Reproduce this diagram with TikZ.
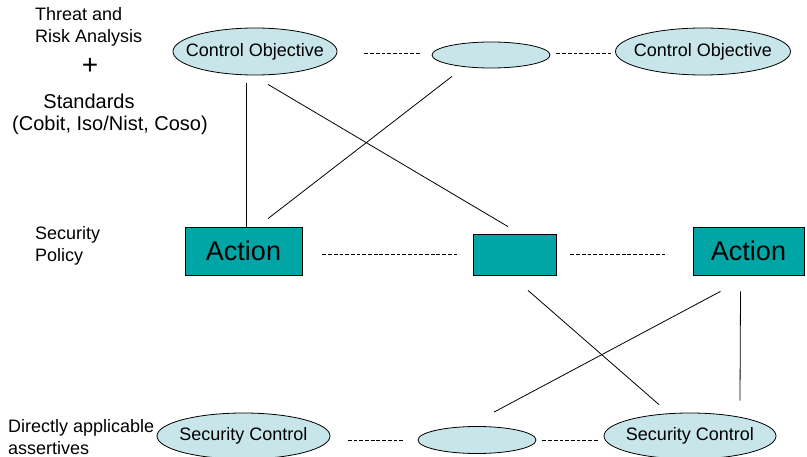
\documentclass[tikz,border=0pt]{standalone}
\usepackage{fontspec}
\setmainfont{Liberation Sans}
\usetikzlibrary{shapes.geometric,calc}
\definecolor{lightcyan}{RGB}{200,230,234}
\definecolor{tealbox}{RGB}{0,166,166}
\begin{document}
\begin{tikzpicture}[x=1pt,y=-1pt,
  oval/.style={ellipse,draw=black,fill=lightcyan,line width=0.8pt,inner sep=0pt},
  ovaltext/.style={font=\fontsize{18}{22}\selectfont,inner sep=0pt},
  box/.style={rectangle,draw=black,fill=tealbox,line width=0.8pt,inner sep=0pt,font=\fontsize{27}{32}\selectfont},
  lbl/.style={font=\fontsize{18}{22}\selectfont,inner sep=0pt,align=left},
  link/.style={line width=0.8pt},
  dashline/.style={line width=0.6pt,dash pattern=on 3.8pt off 1.9pt}]
\useasboundingbox (0,0) rectangle (807,457);

% top row
\node[oval,minimum width=164pt,minimum height=47pt,label={[ovaltext]center:Control Objective}] (co1) at (255,51.5) {};
\node[oval,minimum width=118pt,minimum height=26pt] (m1) at (491,55) {};
\node[oval,minimum width=175pt,minimum height=47pt,label={[ovaltext]center:Control Objective}] (co3) at (703,51.5) {};

% middle row
\node[box,minimum width=117pt,minimum height=48pt] (a1) at (243.5,251) {Action};
\node[box,minimum width=83pt,minimum height=41pt] (mr) at (514.5,254.5) {};
\node[box,minimum width=111pt,minimum height=48pt] (a3) at (748.5,251) {Action};

% bottom row
\node[oval,minimum width=173pt,minimum height=46pt,label={[ovaltext]center:Security Control}] (sc1) at (243.5,436) {};
\node[oval,minimum width=118pt,minimum height=27pt] (m3) at (477,440) {};
\node[oval,minimum width=172pt,minimum height=46pt,label={[ovaltext]center:Security Control}] (sc3) at (690,436) {};

% left labels
\node[lbl,anchor=west] (tra) at (35,27) {Threat and\\Risk Analysis};
\node[font=\fontsize{28}{32}\selectfont,inner sep=0pt] (plus) at (90,66.5) {+};
\node[lbl,font=\fontsize{20}{24}\selectfont] (std) at (89,101) {Standards};
\node[lbl,font=\fontsize{20}{24}\selectfont] (cob) at (110,125) {(Cobit, Iso/Nist, Coso)};
\node[lbl,anchor=west] (sp) at (35,246) {Security\\Policy};
\node[lbl,anchor=west] (daa) at (8,437) {Directly applicable\\assertives};

% dashed connectors
\draw[dashline] ($(co1.east)+(27,1.5)$) -- ($(m1.west)+(-11,-2)$);
\draw[dashline] ($(m1.east)+(6,-2)$) -- ($(co3.west)+(-4,1.5)$);
\draw[dashline] ($(a1.east)+(20,3.5)$) -- ($(mr.west)+(-15,0)$);
\draw[dashline] ($(mr.east)+(14,0)$) -- ($(a3.west)+(-27,3.5)$);
\draw[dashline] ($(sc1.east)+(17.5,4)$) -- ($(m3.west)+(-13,0)$);
\draw[dashline] ($(m3.east)+(6,0)$) -- ($(sc3.west)+(-6,4)$);

% solid connectors
\draw[link] ($(co1.south)+(-9,8)$) -- ($(a1.north)+(2.5,0)$);
\draw[link] ($(co1.south)+(13,9)$) -- ($(mr.north)+(-6.5,-7)$);
\draw[link] ($(m1.south)+(-39,8)$) -- ($(a1.north)+(24.5,-8)$);
\draw[link] ($(mr.south)+(13.5,15)$) -- ($(sc3.north)+(-31,-8)$);
\draw[link] ($(a3.south)+(-28,16)$) -- ($(m3.north)+(17,-14)$);
\draw[link] ($(a3.south)+(-8,16)$) -- ($(sc3.north)+(50,-12)$);
\end{tikzpicture}
\end{document}
